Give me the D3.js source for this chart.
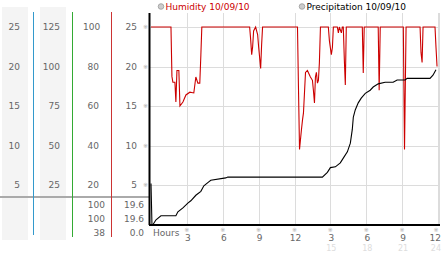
<!DOCTYPE html>
<html><head><meta charset="utf-8">
<script src="https://cdn.jsdelivr.net/npm/d3@7"></script>
<style>body{margin:0;background:#fff}svg{display:block;font-family:"DejaVu Sans",Verdana,sans-serif}</style>
</head><body><svg id="c" width="442" height="253"></svg>
<script>
// ---- data ----
const col1Ticks = [25, 20, 15, 10, 5];
const col2Ticks = [125, 100, 75, 50, 25];
const col3Ticks = [100, 80, 60, 40, 20];
const col4Ticks = [25, 20, 15, 10, 5];
const humStats = ["100", "100", "38"];
const precStats = ["19.6", "19.6", "0.0"];
const xTickHours = [3, 6, 9, 12, 15, 18, 21, 24];
const xTickLabels = ["3", "6", "9", "12", "3", "6", "9", "12"];
const xTickLabels2 = ["", "", "", "", "15", "18", "21", "24"];
const legendLabels = ["Humidity 10/09/10", "Precipitation 10/09/10"];
// humidity (%) : [hour, value]
const humHours = [0,1.67,1.75,1.83,2.0,2.08,2.17,2.33,2.42,2.67,2.92,3.25,3.58,3.75,3.92,4.08,4.17,4.25,
  8.25,8.33,8.42,8.5,8.58,8.75,8.92,9.0,9.17,9.25,9.33,
  12.25,12.33,12.42,12.58,12.67,12.75,12.92,13.08,13.33,13.5,13.58,13.67,13.75,13.83,13.92,14.0,14.08,14.17,
  14.83,14.92,15.08,15.17,15.25,15.58,15.67,15.75,15.92,16.0,16.08,16.17,16.25,16.33,
  17.67,17.75,17.83,19.0,19.08,19.17,21.1,21.2,21.33,22.5,22.58,22.67,22.75,23.75,23.83,23.92];
const humValues = [100,100,75,72,72,62,78,78,60,62,65.6,67,66.6,74.7,71.6,71.6,85.8,100,
  100,94,86,90,98,100,96,90,79,91,100,
  100,70,38,48,53,56.5,77,78,74.7,73,68,61.5,74.7,77,71.6,73,81.8,100,
  100,93,86,89.6,100,100,97,100,97,100,100,83,70.6,100,
  100,76.7,100,100,68,100,100,38,100,100,87,82,100,100,90,80];
// precipitation : [hour, value]
const precHours = [0,0.08,0.17,0.42,0.83,2.08,2.25,2.67,3.08,3.33,3.75,4.17,4.42,4.83,5.0,6.25,6.42,
  14.33,14.75,15.0,15.42,15.83,16.08,16.42,16.67,16.83,16.92,17.08,17.33,17.58,17.92,18.33,18.58,19.0,
  19.58,20.25,20.58,21.25,21.42,23.33,23.58,23.83];
const precValues = [5.2,0,0,0.6,1.1,1.1,1.6,2.1,2.7,3.0,3.7,4.2,4.9,5.4,5.6,5.9,6.0,
  6.0,6.6,7.2,7.3,7.8,8.4,9.2,10.3,12.0,13.6,14.5,15.4,16.0,16.6,17.0,17.4,17.8,
  18.0,18.0,18.3,18.3,18.5,18.5,18.9,19.6];

// ---- drawing ----
const svg = d3.select("#c");
const x = d3.scaleLinear().domain([0, 24]).range([151, 438]);
const y = d3.scaleLinear().domain([0, 25]).range([224.5, 27]);
const yh = d3.scaleLinear().domain([0, 100]).range([224.5, 27]);
const txt = "#666";

// side panels
svg.append("rect").attr("x", 2).attr("y", 7).attr("width", 26).attr("height", 233).attr("fill", "#f4f4f4");
svg.append("rect").attr("x", 40).attr("y", 7).attr("width", 26).attr("height", 233).attr("fill", "#f4f4f4");

// grid
const g = svg.append("g");
g.selectAll("line.h").data(col4Ticks).join("line")
  .attr("x1", 150).attr("x2", 440).attr("y1", d => Math.round(y(d)) + 0.5).attr("y2", d => Math.round(y(d)) + 0.5)
  .attr("stroke", "#dcdcdc");
g.selectAll("line.v").data(xTickHours).join("line")
  .attr("x1", d => Math.round(x(d)) + 0.5).attr("x2", d => Math.round(x(d)) + 0.5)
  .attr("y1", 13).attr("y2", 224).attr("stroke", "#dcdcdc");
g.append("line").attr("x1", 439.5).attr("x2", 439.5).attr("y1", 13).attr("y2", 224).attr("stroke", "#dcdcdc");

// separator horizontal
svg.append("line").attr("x1", 0).attr("x2", 150).attr("y1", 197).attr("y2", 197).attr("stroke", "#aaa").attr("stroke-width", 2);

// colored vertical lines
svg.append("line").attr("x1", 33.5).attr("x2", 33.5).attr("y1", 12).attr("y2", 235).attr("stroke", "#39c");
svg.append("line").attr("x1", 72.5).attr("x2", 72.5).attr("y1", 12).attr("y2", 237).attr("stroke", "#3a3");
svg.append("line").attr("x1", 111.5).attr("x2", 111.5).attr("y1", 12).attr("y2", 237).attr("stroke", "#c33");

// panel tick labels
svg.append("g").selectAll("text").data(col1Ticks).join("text")
  .attr("x", 20).attr("y", (d, i) => y(col4Ticks[i])).attr("dy", "0.35em").attr("text-anchor", "end")
  .attr("font-size", 9).attr("fill", txt).text(d => d);
svg.append("g").selectAll("text").data(col2Ticks).join("text")
  .attr("x", 60).attr("y", (d, i) => y(col4Ticks[i])).attr("dy", "0.35em").attr("text-anchor", "end")
  .attr("font-size", 9).attr("fill", txt).text(d => d);
svg.append("g").selectAll("text").data(col3Ticks).join("text")
  .attr("x", 99).attr("y", (d, i) => y(col4Ticks[i])).attr("dy", "0.35em").attr("text-anchor", "end")
  .attr("font-size", 9).attr("fill", txt).text(d => d)
  .each(function () { const w = this.getComputedTextLength(); if (w > 16) { d3.select(this).attr("x", 83).attr("text-anchor", "start"); } });
svg.append("g").selectAll("text").data(col4Ticks).join("text")
  .attr("x", 137).attr("y", d => y(d)).attr("dy", "0.35em").attr("text-anchor", "end")
  .attr("font-size", 9).attr("fill", txt).text(d => d);
svg.append("g").selectAll("text").data(col4Ticks).join("text")
  .attr("x", 145.5).attr("y", d => y(d)).attr("dy", "0.35em").attr("text-anchor", "middle")
  .attr("font-size", 6).attr("fill", "#aaa").text("※");

// stats
svg.append("g").selectAll("text").data(humStats).join("text")
  .attr("x", 105).attr("y", (d, i) => 204.5 + i * 14).attr("dy", "0.35em").attr("text-anchor", "end")
  .attr("font-size", 9).attr("fill", txt).text(d => d);
svg.append("g").selectAll("text").data(precStats).join("text")
  .attr("x", 144).attr("y", (d, i) => 204.5 + i * 14).attr("dy", "0.35em").attr("text-anchor", "end")
  .attr("font-size", 9).attr("fill", txt).text(d => d);

// x-axis labels
svg.append("text").attr("x", 153).attr("y", 235.5).attr("font-size", 9).attr("fill", txt).text("Hours");
svg.append("g").selectAll("text").data(xTickHours).join("text")
  .attr("x", d => Math.min(x(d), 436)).attr("y", 230).attr("dy", "0.35em").attr("text-anchor", "middle")
  .attr("font-size", 6).attr("fill", "#aaa").text("※");
svg.append("g").selectAll("text").data(xTickHours).join("text")
  .attr("x", d => d === 24 ? 441 : x(d) + 1).attr("y", 241).attr("text-anchor", d => d === 24 ? "end" : "middle")
  .attr("font-size", 9).attr("fill", txt).text((d, i) => xTickLabels[i]);
svg.append("g").selectAll("text").data(xTickHours).join("text")
  .attr("x", d => d === 24 ? 441 : x(d) + 1).attr("y", 251).attr("text-anchor", d => d === 24 ? "end" : "middle")
  .attr("font-size", 8).attr("fill", "#ddd").text((d, i) => xTickLabels2[i]);

// series
const hum = humHours.map((h, i) => [h, humValues[i]]);
const prec = precHours.map((h, i) => [h, precValues[i]]);
svg.append("path").datum(hum).attr("fill", "none").attr("stroke", "#cc0000").attr("stroke-width", 1.1)
  .attr("d", d3.line().x(d => x(d[0])).y(d => yh(d[1])));
svg.append("path").datum(prec).attr("fill", "none").attr("stroke", "#000").attr("stroke-width", 1.1)
  .attr("d", d3.line().x(d => x(d[0])).y(d => y(d[1])));

// axes
svg.append("line").attr("x1", 149.5).attr("x2", 149.5).attr("y1", 13).attr("y2", 225).attr("stroke", "#000").attr("stroke-width", 2);
svg.append("line").attr("x1", 149).attr("x2", 440).attr("y1", 225).attr("y2", 225).attr("stroke", "#000").attr("stroke-width", 2);

// legend
const lg = svg.append("g");
const lx = [161, 302];
const lc = ["#cc0000", "#000"];
lg.selectAll("circle").data(legendLabels).join("circle")
  .attr("cx", (d, i) => lx[i]).attr("cy", 6.5).attr("r", 2.8).attr("fill", "#ccc").attr("stroke", "#999").attr("stroke-width", 0.8);
lg.selectAll("text").data(legendLabels).join("text")
  .attr("x", (d, i) => lx[i] + 4.5).attr("y", 10).attr("font-size", 9).attr("fill", (d, i) => lc[i]).text(d => d);
</script></body></html>
